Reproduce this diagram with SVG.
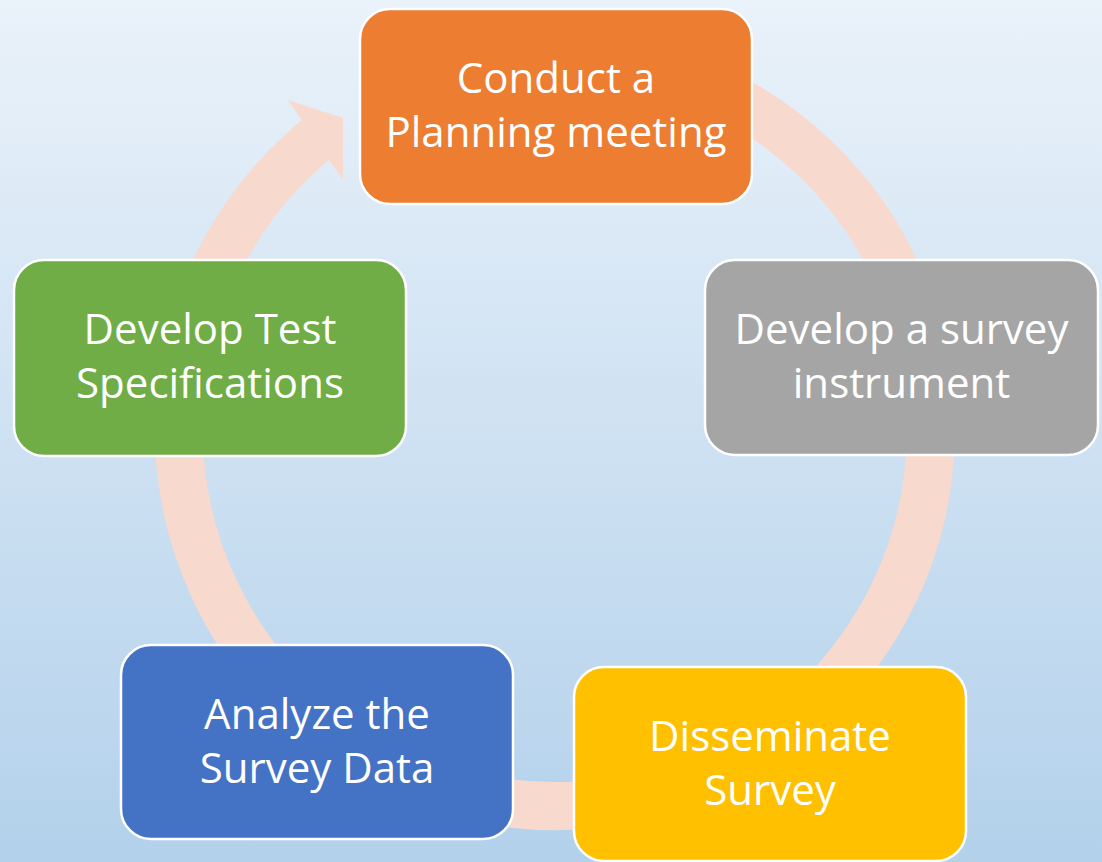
<svg xmlns="http://www.w3.org/2000/svg" width="1102" height="862" viewBox="0 0 1102 862">
<defs>
<linearGradient id="bg" x1="0" y1="0" x2="0" y2="1">
<stop offset="0" stop-color="#EAF2FA"/>
<stop offset="1" stop-color="#B3D1EB"/>
</linearGradient>
<style>
.box{stroke:#FFFFFF;stroke-width:2.5}
.lbl{font-family:"Open Sans","DejaVu Sans",sans-serif;font-size:42px;fill:#FFFFFF;text-anchor:middle}
.ring{fill:none;stroke:#F8D9CE;stroke-width:48}
</style>
</defs>
<rect x="0" y="0" width="1102" height="862" fill="url(#bg)"/>
<g id="connectors">
<path class="ring" d="M 683.6 76.7 A 376 376 0 1 1 323.5 133.7"/>
<polygon points="288,100 343,118 343,180" fill="#F8D9CE"/>
</g>
<g id="node-conduct">
<rect class="box" x="360" y="9" width="392" height="195" rx="30" fill="#ED7D31"/>
<text class="lbl" x="556" y="93">Conduct a</text>
<text class="lbl" x="556" y="147">Planning meeting</text>
</g>
<g id="node-survey-instrument">
<rect class="box" x="705" y="260" width="393" height="195" rx="30" fill="#A5A5A5"/>
<text class="lbl" x="901.5" y="344">Develop a survey</text>
<text class="lbl" x="901.5" y="398">instrument</text>
</g>
<g id="node-disseminate">
<rect class="box" x="574" y="667" width="392" height="194" rx="30" fill="#FFC000"/>
<text class="lbl" x="770" y="751">Disseminate</text>
<text class="lbl" x="770" y="805">Survey</text>
</g>
<g id="node-analyze">
<rect class="box" x="121" y="645" width="392" height="194" rx="30" fill="#4472C4"/>
<text class="lbl" x="317" y="729">Analyze the</text>
<text class="lbl" x="317" y="783">Survey Data</text>
</g>
<g id="node-test-specs">
<rect class="box" x="14" y="260" width="392" height="196" rx="30" fill="#70AD47"/>
<text class="lbl" x="210" y="344">Develop Test</text>
<text class="lbl" x="210" y="398">Specifications</text>
</g>
</svg>
